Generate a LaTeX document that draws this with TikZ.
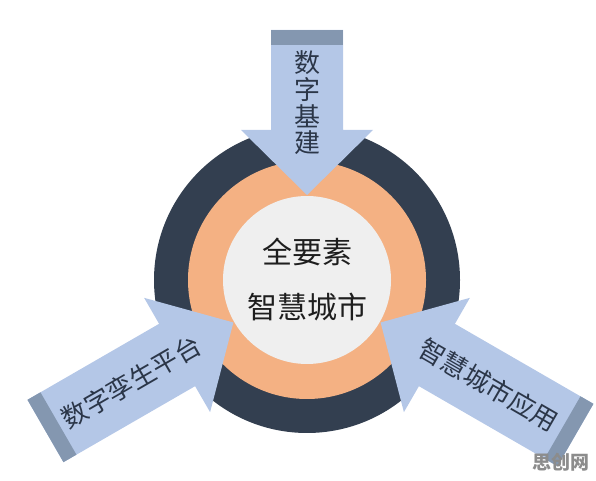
\documentclass[tikz,border=0pt]{standalone}
\usepackage{fontspec}
\newfontfamily\cjk{Noto Sans CJK SC}
\definecolor{ringdark}{HTML}{333F50}
\definecolor{ringorange}{HTML}{F4B183}
\definecolor{innergray}{HTML}{EFEFEF}
\definecolor{arrowblue}{HTML}{B4C7E7}
\definecolor{capblue}{HTML}{8497B0}
\definecolor{armtextc}{HTML}{2B3648}
\definecolor{centertextc}{HTML}{1E1E1E}
\definecolor{markc}{HTML}{8C8C8C}
\newcommand\drawarm[2]{%
  \begin{scope}[shift={(C)}, rotate=#1]
    \fill[arrowblue] (0,85) -- (66,150) -- (36,150) -- (36,#2) -- (-36,#2) -- (-36,150) -- (-66,150) -- cycle;
    \fill[capblue] (-36,#2-15) rectangle (36,#2);
  \end{scope}}
\begin{document}
\begin{tikzpicture}[x=1pt,y=1pt,
  armtext/.style={font=\cjk\fontsize{26}{26.7}\selectfont, text=armtextc, inner sep=0pt, align=center},
  centertext/.style={font=\cjk\fontsize{30}{30}\selectfont, text=centertextc, inner sep=0pt},
  marktext/.style={font=\cjk\bfseries\fontsize{19}{19}\selectfont, text=markc, inner sep=0pt}]
\useasboundingbox (0,0) rectangle (596,481);
\coordinate (C) at (307,201);
\fill[ringdark] (C) circle (153);
\fill[ringorange] (C) circle (119);
\drawarm{0}{250}
\drawarm{120}{302}
\drawarm{240}{310}
\fill[innergray] (C) circle (84);
\node[centertext] (c1) at (307,229) {全要素};
\node[centertext] (c2) at (307,174) {智慧城市};
\node[armtext] (top) at (307,378) {数\\字\\基\\建};
\node[armtext, rotate=30] (left) at ([shift={(210:203)}]C) {数字孪生平台};
\node[armtext, rotate=-30] (right) at ([shift={(330:210)}]C) {智慧城市应用};
\node[marktext] (mark) at (561,19) {思创网};
\end{tikzpicture}
\end{document}
